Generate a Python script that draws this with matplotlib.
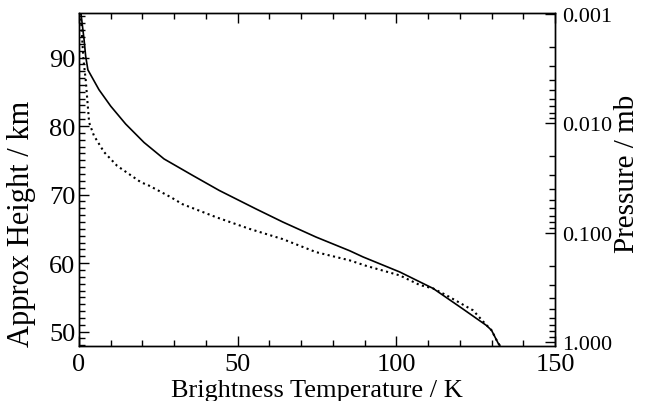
import matplotlib
matplotlib.use("Agg")
import matplotlib.pyplot as plt
from matplotlib.ticker import MultipleLocator, FixedLocator, FormatStrFormatter, NullFormatter

plt.rcParams["font.family"] = ["Liberation Serif", "DejaVu Serif"]
plt.rcParams["font.size"] = 19

# Solid curve: brightness temperature (K) vs approx height (km)
solid_temp = [0.6, 1.6, 2.1, 2.8, 6.3, 10.0, 14.7, 20.5, 26.8, 35.8, 44.2, 55.8,
              64.2, 74.7, 85.3, 89.5, 101.1, 111.6, 121.0, 128.4, 130.0, 132.1, 132.6]
solid_height = [96.5, 92.6, 90.2, 88.2, 85.3, 82.9, 80.3, 77.6, 75.2, 72.8, 70.6, 67.9,
                66.0, 63.8, 61.8, 60.9, 58.7, 56.3, 53.3, 50.9, 50.2, 48.3, 48.0]

# Dotted curve
dotted_temp = [0.5, 1.4, 2.1, 2.6, 3.2, 4.7, 7.9, 12.0, 19.5, 22.1, 29.0, 32.6, 43.2,
               53.7, 64.2, 74.7, 85.3, 90.5, 101.1, 107.4, 111.6, 115.8, 124.2,
               127.9, 130.0, 132.1, 132.6]
dotted_height = [96.5, 89.7, 86.8, 83.9, 80.5, 78.6, 76.2, 74.2, 71.8, 71.3, 69.6, 68.6,
                 66.7, 65.0, 63.5, 61.6, 60.4, 59.6, 58.2, 56.8, 56.3, 55.3, 53.1,
                 51.2, 50.2, 48.3, 48.0]

pressure_ticks = [0.001, 0.01, 0.1, 1.0]

fig = plt.figure(figsize=(6.46, 4.02), dpi=100)
ax = fig.add_axes([0.1223, 0.1368, 0.8591 - 0.1223, 0.9652 - 0.1368])

ax.plot(solid_temp, solid_height, "k-", lw=1.2)
ax.plot(dotted_temp, dotted_height, "k:", lw=1.5)

ax.set_xlim(0, 150)
ax.set_ylim(47.9, 96.5)
ax.xaxis.set_major_locator(MultipleLocator(50))
ax.xaxis.set_minor_locator(MultipleLocator(10))
ax.yaxis.set_major_locator(MultipleLocator(10))
ax.yaxis.set_minor_locator(MultipleLocator(1))
ax.tick_params(which="both", direction="in", top=True, right=False, width=1)
ax.tick_params(which="major", length=7)
ax.tick_params(which="minor", length=4.5)
ax.tick_params(axis="x", which="major", pad=5)
ax.tick_params(axis="y", which="major", pad=2.5)
ax.set_xlabel("Brightness Temperature / K", labelpad=3)
ax.set_ylabel("Approx Height / km", fontsize=22)
ax.yaxis.set_label_coords(-0.09, 0.37)

# Pressure axis on the right
ax2 = ax.twinx()
ax2.set_yscale("log")
ax2.set_ylim(1.088, 0.00098)
ax2.yaxis.set_major_locator(FixedLocator(pressure_ticks))
ax2.yaxis.set_major_formatter(FormatStrFormatter("%.3f"))
ax2.yaxis.set_minor_formatter(NullFormatter())
ax2.tick_params(which="both", direction="in", width=1, labelsize=16)
ax2.tick_params(which="major", length=7, pad=5)
ax2.tick_params(which="minor", length=4.5)
ax2.set_ylabel("Pressure / mb", fontsize=21)
ax2.yaxis.set_label_coords(1.125, 0.52)

for a in (ax, ax2):
    for s in a.spines.values():
        s.set_linewidth(1.0)

fig.savefig("out.png", dpi=100)
